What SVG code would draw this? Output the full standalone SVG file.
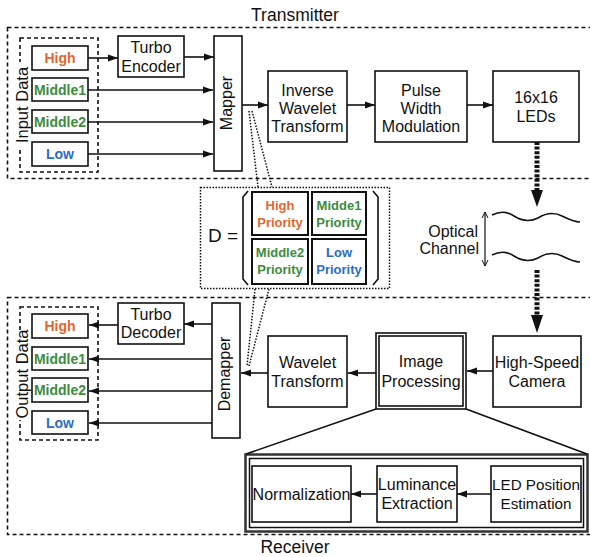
<svg xmlns="http://www.w3.org/2000/svg" width="590" height="557" viewBox="0 0 590 557">
<style>
text{font-family:"Liberation Sans",Arial,sans-serif;fill:#111}
.t{font-size:16px;text-anchor:middle}
.big{font-size:17.5px;text-anchor:middle}
.lab{font-size:14px;font-weight:bold;text-anchor:middle}
.pr{font-size:13px;font-weight:bold;text-anchor:middle}
.hi{fill:#e4652d}.mid{fill:#3d8c3d}.lo{fill:#2b6cc6}
.box{fill:#fff;stroke:#111;stroke-width:1.6}
.cell{fill:#fff;stroke:#111;stroke-width:2}
.dash{fill:none;stroke:#111;stroke-width:1.6;stroke-dasharray:4 3}
.dot{fill:none;stroke:#111;stroke-width:1.5;stroke-dasharray:1.5 1.5}
.ar{fill:none;stroke:#111;stroke-width:1.6;marker-end:url(#ah)}
.thick{fill:none;stroke:#111;stroke-width:5;stroke-dasharray:3 1.6}
.ln{fill:none;stroke:#111;stroke-width:1.6}
</style>
<defs>
<marker id="ah" markerUnits="userSpaceOnUse" markerWidth="11" markerHeight="8" refX="10" refY="4" orient="auto"><path d="M0,0.5 L10,4 L0,7.5 z" fill="#111"/></marker>
<marker id="sm" markerUnits="userSpaceOnUse" markerWidth="8" markerHeight="8" refX="6" refY="4" orient="auto"><path d="M0,1 L6,4 L0,7" fill="none" stroke="#111" stroke-width="1"/></marker>
</defs>
<rect width="590" height="557" fill="#fff"/>

<g id="transmitter">
<rect class="dash" x="7.5" y="27.5" width="600" height="151"/>
<text class="big" x="295" y="21">Transmitter</text>
</g>
<g id="receiver">
<rect class="dash" x="7.5" y="297.5" width="600" height="237"/>
<text class="big" x="295" y="553">Receiver</text>
</g>

<g id="input-data">
<rect class="dash" x="20" y="38" width="78" height="134"/>
<rect x="12" y="62" width="16" height="86" fill="#fff"/>
<text class="t" style="font-size:16.5px" transform="translate(27.5,105) rotate(-90)">Input Data</text>
</g>
<g id="in-high"><rect class="box" x="32" y="46" width="56" height="24"/><text class="lab hi" x="60" y="63">High</text></g>
<g id="in-middle1"><rect class="box" x="32" y="78" width="56" height="23"/><text class="lab mid" x="60" y="95">Middle1</text></g>
<g id="in-middle2"><rect class="box" x="32" y="110" width="56" height="23"/><text class="lab mid" x="60" y="127">Middle2</text></g>
<g id="in-low"><rect class="box" x="32" y="142" width="56" height="24"/><text class="lab lo" x="60" y="159">Low</text></g>

<g id="turbo-encoder"><rect class="box" x="118" y="36" width="66" height="41"/><text class="t" x="151" y="53">Turbo</text><text class="t" x="151" y="72">Encoder</text></g>
<g id="mapper"><rect class="box" x="214" y="36" width="28" height="135"/><text class="t" transform="translate(232,103) rotate(-90)">Mapper</text></g>
<g id="iwt"><rect class="box" x="268" y="71" width="79" height="71"/><text class="t" x="307.5" y="96">Inverse</text><text class="t" x="307.5" y="114">Wavelet</text><text class="t" x="307.5" y="132">Transform</text></g>
<g id="pwm"><rect class="box" x="375" y="71" width="92" height="71"/><text class="t" x="421" y="96">Pulse</text><text class="t" x="421" y="114">Width</text><text class="t" x="421" y="132">Modulation</text></g>
<g id="leds"><rect class="box" x="493" y="71" width="86" height="71"/><text class="t" x="536" y="103">16x16</text><text class="t" x="536" y="122">LEDs</text></g>

<g id="optical-channel">
<path class="ln" d="M492,215 C500,211 508,212 514,216 C522,221 530,222 538,218 C546,213 554,212 562,216 C568,219 574,222 580,222"/>
<path class="ln" d="M492,255 C500,251 508,252 514,256 C522,261 530,262 538,258 C546,253 554,252 562,256 C568,259 574,262 580,262"/>
<line x1="485" y1="238" x2="485" y2="212" stroke="#111" stroke-width="1.2" marker-end="url(#sm)"/>
<line x1="485" y1="238" x2="485" y2="266" stroke="#111" stroke-width="1.2" marker-end="url(#sm)"/>
<text class="t" style="text-anchor:end" x="478" y="237">Optical</text>
<text class="t" style="text-anchor:end" x="479" y="254">Channel</text>
</g>

<g id="d-matrix">
<rect class="dot" x="200.5" y="187.5" width="189" height="101"/>
<text x="208" y="242" style="font-size:19px">D =</text>
<path class="ln" stroke-width="2" d="M248,191 L243,197 L243,279 L248,285"/>
<path class="ln" stroke-width="2" d="M373,191 L378,197 L378,279 L373,285"/>
<rect class="cell" x="252" y="192" width="56" height="43"/>
<rect class="cell" x="312" y="192" width="54" height="43"/>
<rect class="cell" x="252" y="239" width="56" height="45"/>
<rect class="cell" x="312" y="239" width="54" height="45"/>
<text class="pr hi" x="280" y="210">High</text><text class="pr hi" x="280" y="227">Priority</text>
<text class="pr mid" x="339" y="210">Midde1</text><text class="pr mid" x="339" y="227">Priority</text>
<text class="pr mid" x="280" y="257">Middle2</text><text class="pr mid" x="280" y="274">Priority</text>
<text class="pr lo" x="339" y="257">Low</text><text class="pr lo" x="339" y="274">Priority</text>
</g>

<g id="output-data">
<rect class="dash" x="20" y="307" width="78" height="133"/>
<rect x="12" y="330" width="16" height="90" fill="#fff"/>
<text class="t" style="font-size:16.5px" transform="translate(27.5,374) rotate(-90)">Output Data</text>
</g>
<g id="out-high"><rect class="box" x="32" y="314" width="56" height="24"/><text class="lab hi" x="60" y="331">High</text></g>
<g id="out-middle1"><rect class="box" x="32" y="347" width="56" height="23"/><text class="lab mid" x="60" y="364">Middle1</text></g>
<g id="out-middle2"><rect class="box" x="32" y="378" width="56" height="24"/><text class="lab mid" x="60" y="395">Middle2</text></g>
<g id="out-low"><rect class="box" x="32" y="411" width="56" height="23"/><text class="lab lo" x="60" y="428">Low</text></g>

<g id="turbo-decoder"><rect class="box" x="118" y="303" width="66" height="41"/><text class="t" x="151" y="320">Turbo</text><text class="t" x="151" y="338">Decoder</text></g>
<g id="demapper"><rect class="box" x="212" y="303" width="28" height="135"/><text class="t" transform="translate(230,374) rotate(-90)">Demapper</text></g>
<g id="wt"><rect class="box" x="268" y="336" width="79" height="71"/><text class="t" x="307.5" y="368">Wavelet</text><text class="t" x="307.5" y="387">Transform</text></g>
<g id="image-processing"><rect class="box" x="376" y="333" width="90" height="76" stroke="#444" stroke-width="1.5"/><rect class="box" x="379" y="336" width="84" height="70"/><text class="t" x="421" y="367">Image</text><text class="t" x="421" y="387">Processing</text></g>
<g id="camera"><rect class="box" x="493" y="336" width="88" height="71"/><text class="t" x="537" y="368">High-Speed</text><text class="t" x="537" y="387">Camera</text></g>

<g id="image-processing-detail">
<rect x="245.5" y="454.5" width="342" height="77" fill="#fff" stroke="#333" stroke-width="2.5"/>
<rect x="249.5" y="458.5" width="334" height="69" fill="none" stroke="#111" stroke-width="1.5"/>
</g>
<g id="normalization"><rect class="box" x="252" y="466" width="99" height="56"/><text class="t" x="301.5" y="500">Normalization</text></g>
<g id="luminance"><rect class="box" x="377" y="466" width="80" height="56"/><text class="t" x="417" y="490">Luminance</text><text class="t" x="417" y="509">Extraction</text></g>
<g id="led-position"><rect class="box" x="491" y="466" width="90" height="56"/><text class="t" style="font-size:15.2px" x="536" y="490">LED Position</text><text class="t" style="font-size:15.2px" x="536" y="509">Estimation</text></g>

<g id="connectors">
<line class="ar" x1="88" y1="58" x2="118" y2="58"/>
<line class="ar" x1="184" y1="57" x2="214" y2="57"/>
<line class="ar" x1="88" y1="90" x2="213" y2="90"/>
<line class="ar" x1="88" y1="122" x2="213" y2="122"/>
<line class="ar" x1="88" y1="154" x2="213" y2="154"/>
<line class="ar" x1="242" y1="105" x2="268" y2="105"/>
<line class="ar" x1="347" y1="105" x2="375" y2="105"/>
<line class="ar" x1="467" y1="105" x2="493" y2="105"/>
<line class="thick" x1="537" y1="142" x2="537" y2="190"/>
<polygon points="531,190 543,190 537,207" fill="#111"/>
<line class="thick" x1="537" y1="270" x2="537" y2="315"/>
<polygon points="531,315 543,315 537,333" fill="#111"/>
<line class="dot" x1="249" y1="111" x2="258" y2="187"/>
<line class="dot" x1="252" y1="111" x2="272" y2="187"/>
<line class="dot" x1="255" y1="289" x2="247" y2="366"/>
<line class="dot" x1="269" y1="289" x2="249" y2="366"/>
<line class="ar" x1="212" y1="324" x2="184" y2="324"/>
<line class="ar" x1="118" y1="325" x2="89" y2="325"/>
<line class="ar" x1="212" y1="359" x2="89" y2="359"/>
<line class="ar" x1="212" y1="391" x2="89" y2="391"/>
<line class="ar" x1="212" y1="423" x2="89" y2="423"/>
<line class="ar" x1="268" y1="373" x2="241" y2="373"/>
<line class="ar" x1="376" y1="373" x2="348" y2="373"/>
<line class="ar" x1="493" y1="371" x2="467" y2="371"/>
<line class="ln" x1="376" y1="409" x2="246" y2="454"/>
<line class="ln" x1="466" y1="409" x2="587" y2="454"/>
<line class="ar" x1="377" y1="494" x2="351" y2="494"/>
<line class="ar" x1="491" y1="494" x2="457" y2="494"/>
</g>
</svg>
